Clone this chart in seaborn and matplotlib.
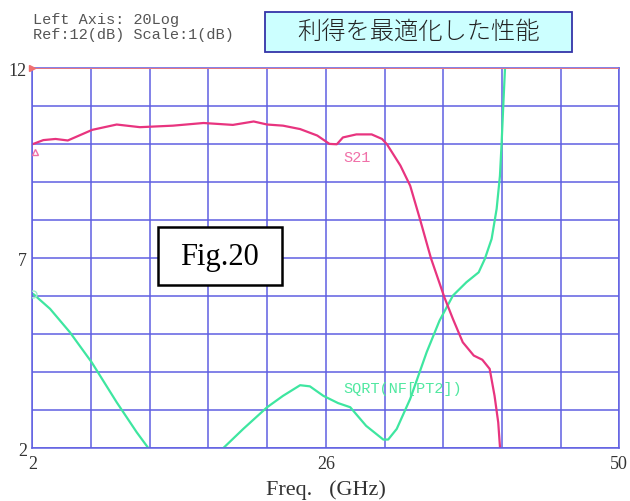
import numpy as np
import pandas as pd
import matplotlib
matplotlib.use("Agg")
import matplotlib.pyplot as plt
from matplotlib.patches import Rectangle
import seaborn as sns

# S21 trace (dB) vs frequency (GHz)
s21_freq = [2.0, 2.9, 3.9, 4.9, 6.9, 8.9, 10.8, 13.5, 16.0, 18.4, 20.1, 21.2, 22.5,
            23.9, 25.3, 26.3, 26.9, 27.4, 28.5, 29.75, 30.6, 31.0, 32.1, 32.9, 33.7,
            34.6, 35.7, 36.4, 37.2, 38.1, 38.8, 39.4, 39.8, 40.1, 40.25, 40.3]
s21_db = [10.0, 10.11, 10.14, 10.10, 10.38, 10.52, 10.45, 10.49, 10.56, 10.51, 10.60,
          10.52, 10.49, 10.40, 10.23, 10.01, 10.0, 10.18, 10.26, 10.26, 10.14, 10.0,
          9.44, 8.91, 8.03, 7.0, 5.97, 5.4, 4.79, 4.44, 4.33, 4.09, 3.38, 2.68, 2.0, 1.5]

# SQRT(NF[PT2]) trace
nf_freq = [2.08, 3.45, 5.08, 6.86, 8.9, 10.54, 11.5, 13.0, 15.0, 16.5, 17.6, 19.25,
           21.2, 22.5, 23.9, 24.7, 25.8, 27.0, 28.0, 29.3, 30.7, 31.1, 31.8, 32.9,
           34.25, 35.3, 36.4, 37.5, 38.5, 39.0, 39.56, 39.97, 40.24, 40.38, 40.5,
           40.65, 40.7]
nf_db = [6.06, 5.67, 5.05, 4.26, 3.21, 2.42, 2.0, 1.5, 1.3, 1.6, 2.0, 2.51, 3.08,
         3.38, 3.66, 3.63, 3.38, 3.19, 3.08, 2.59, 2.23, 2.23, 2.51, 3.30, 4.53,
         5.36, 6.02, 6.37, 6.63, 6.98, 7.51, 8.30, 9.17, 10.05, 10.93, 11.97, 12.5]

ref_level = 12
x_ticks = np.linspace(2, 50, 11)
x_labels = {2: "2", 26: "26", 50: "50"}
y_ticks = np.arange(2, 13)
y_labels = {2: "2", 7: "7", 12: "12"}

s21 = pd.DataFrame({"freq": s21_freq, "db": s21_db})
nf = pd.DataFrame({"freq": nf_freq, "db": nf_db})

sns.set_style("white")
plt.rcParams["font.family"] = ["Liberation Serif", "DejaVu Sans"]

grid_c = "#5f5fe2"
s21_c = "#e8347f"
nf_c = "#3ee6a0"

fig = plt.figure(figsize=(6.3, 5.02), dpi=100)
ax = fig.add_axes([0.0513, 0.105, 0.9317, 0.757])

sns.lineplot(data=nf, x="freq", y="db", color=nf_c, lw=1.6, sort=False, ax=ax,
             solid_joinstyle="round", solid_capstyle="round")
sns.lineplot(data=s21, x="freq", y="db", color=s21_c, lw=1.6, sort=False, ax=ax,
             solid_joinstyle="round", solid_capstyle="round")
ax.axhline(ref_level, color="#f07878", lw=1.3, zorder=3)
ax.plot(2, ref_level, marker=">", color="#f07070", ms=4, clip_on=False, zorder=4)
ax.plot(2.25, s21_db[0] - 0.2, marker="^", mfc="none", mec="#f070a8", ms=5, zorder=4)
ax.plot(nf_freq[0], nf_db[0], marker="o", mfc="none", mec="#9af0c8", ms=5, zorder=4)

ax.set_xlim(2, 50)
ax.set_ylim(2, 12)
ax.set_xticks(x_ticks)
ax.set_xticklabels([x_labels.get(int(round(t)), "") if abs(t - round(t)) < 1e-6 else "" for t in x_ticks])
ax.set_yticks(y_ticks)
ax.set_yticklabels([y_labels.get(int(t), "") for t in y_ticks])
ax.grid(True, color=grid_c, lw=1.1)
ax.tick_params(length=0, labelsize=13, labelcolor="#333333")
ax.tick_params(axis="x", pad=5)
ax.tick_params(axis="y", pad=4)
for s in ax.spines.values():
    s.set_color(grid_c)
    s.set_linewidth(1.1)
ax.set_ylabel("")
ax.set_xlabel("Freq.   (GHz)", fontsize=16, color="#333333", labelpad=5)

ax.text(27.4, 9.57, "S21", color="#f070a8", fontsize=11, family="Liberation Mono",
        va="baseline")
ax.text(27.4, 3.47, "SQRT(NF[PT2])", color="#50e8a0", fontsize=11,
        family="Liberation Mono", va="baseline")

# header text
fig.text(33 / 630, 1 - 24 / 502, "Left Axis: 20Log", fontsize=11,
         family="Liberation Mono", color="#555555", va="baseline")
fig.text(33 / 630, 1 - 39 / 502, "Ref:12(dB) Scale:1(dB)", fontsize=11,
         family="Liberation Mono", color="#555555", va="baseline")

fig.patches.append(Rectangle((265 / 630, 1 - 53.3 / 502), 306.7 / 630, 40 / 502,
                             transform=fig.transFigure, fc="#ccffff", ec="#3434a8",
                             lw=1.3))
fig.text(418.3 / 630, 1 - 33.3 / 502, "利得を最適化した性能", fontsize=17.5,
         family=["Noto Sans CJK JP"], fontweight="light", color="#222222",
         ha="center", va="center")

# Fig.20 box
ax.add_patch(Rectangle((158 / 630, 1 - 286 / 502), 124 / 630, 58 / 502,
                       transform=fig.transFigure, fc="white", ec="black", lw=1.8,
                       zorder=5))
fig.text(219 / 630, 1 - 258 / 502, "Fig.20", fontsize=22, color="black",
         ha="center", va="center", zorder=6)

fig.savefig("out.png", dpi=100)
